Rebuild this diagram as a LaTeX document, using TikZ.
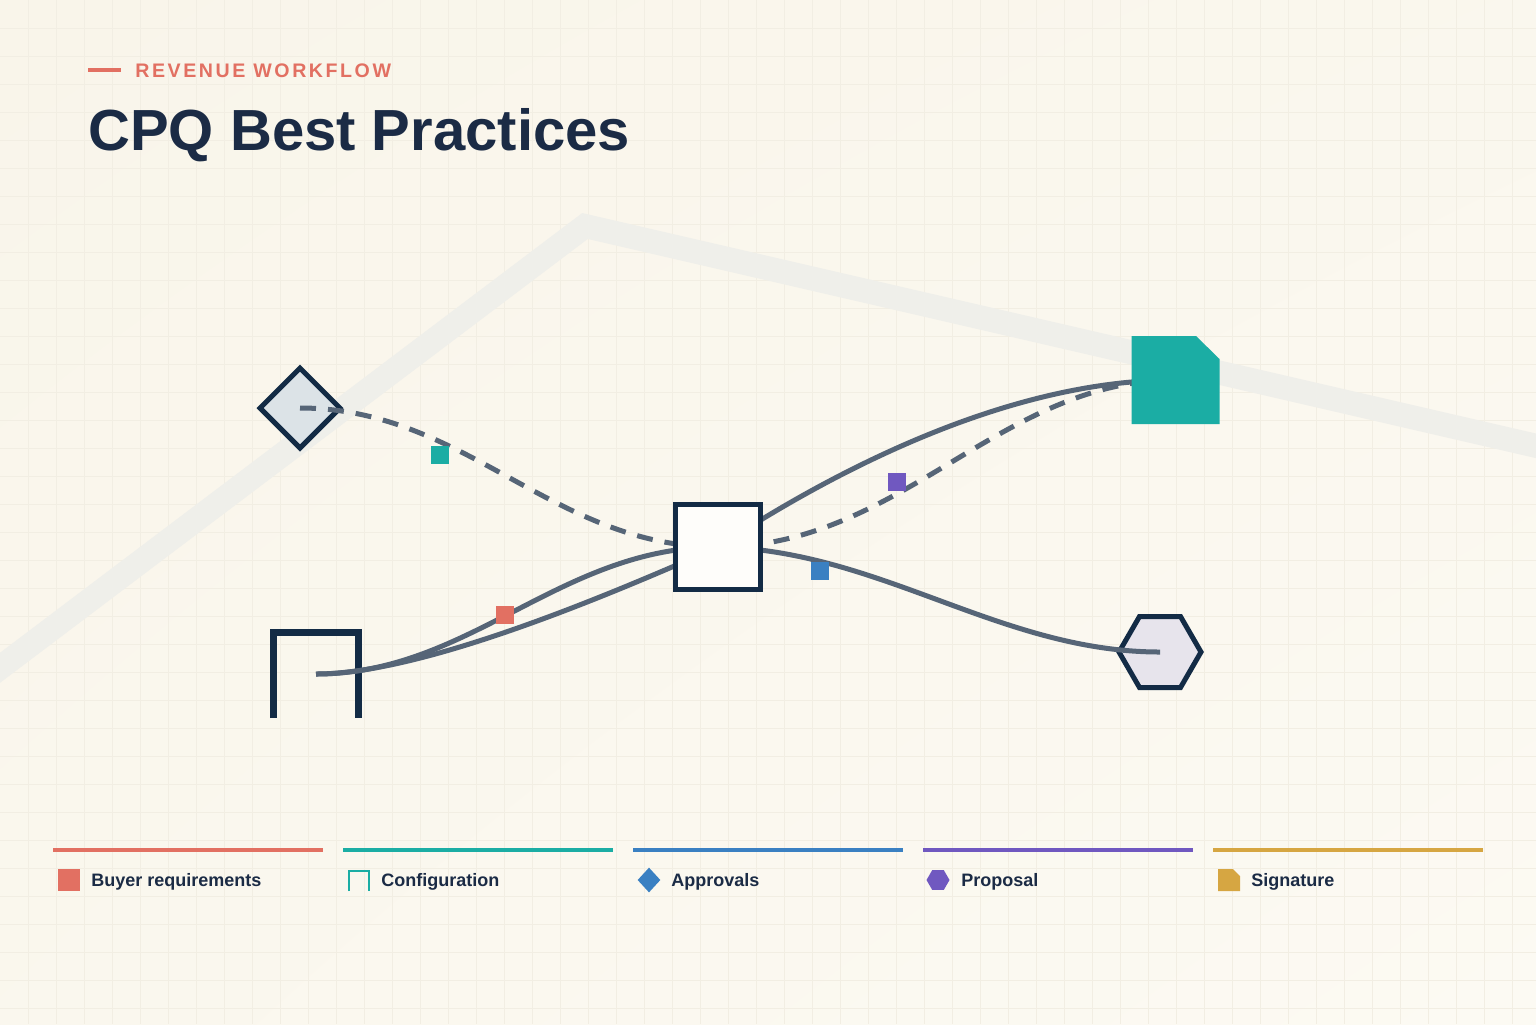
\documentclass[tikz,border=0pt]{standalone}
\usepackage{fontspec}
\setmainfont{Liberation Sans}
\usetikzlibrary{shapes.geometric,shadings}
\definecolor{bgA}{HTML}{F9F5EA}
\definecolor{bgB}{HTML}{FCFAF3}
\definecolor{gridc}{HTML}{F2EEE3}
\definecolor{bandc}{HTML}{EFEFEA}
\definecolor{navy}{HTML}{132B45}
\definecolor{textnavy}{HTML}{1B2B45}
\definecolor{wire}{HTML}{566577}
\definecolor{coral}{HTML}{E27062}
\definecolor{teal}{HTML}{1BADA4}
\definecolor{blueC}{HTML}{3A80C2}
\definecolor{purpleC}{HTML}{7058C0}
\definecolor{gold}{HTML}{D6A642}
\definecolor{diafill}{HTML}{DCE3E7}
\definecolor{hexfill}{HTML}{E7E4EC}
\tikzset{
  wirestyle/.style={draw=wire, line width=2.5pt},
  dashwire/.style={wirestyle, dash pattern=on 8pt off 6pt},
  marker/.style={minimum size=9pt, inner sep=0pt, draw=none},
  legline/.style={line width=2pt},
  leglabel/.style={anchor=base west, inner sep=0pt, font=\fontsize{9}{11}\selectfont\bfseries, text=textnavy},
  outline/.style={draw=navy, line width=2.5pt}
}
\begin{document}
\begin{tikzpicture}[x=0.5pt,y=-0.5pt]
\useasboundingbox (0,0) rectangle (1536,1024);
% background
\shade[upper left=bgA, lower right=bgB, upper right=bgA!60!bgB, lower left=bgA!60!bgB] (0,0) rectangle (1536,1024);
\begin{scope}
\clip (0,0) rectangle (1536,1024);
\foreach \i in {1,...,54} { \draw[gridc, line width=0.5pt] (28*\i,0) -- (28*\i,1024); }
\foreach \j in {1,...,36} { \draw[gridc, line width=0.5pt] (0,28*\j) -- (1536,28*\j); }
\draw[bandc, line width=12pt, line join=miter] (-40,698) -- (585,226) -- (1580,456);
\end{scope}

% header
\draw[coral, line width=2pt] (88,70) -- (121,70);
\node[anchor=base west, inner sep=0pt, text=coral, font=\fontsize{9.8}{12}\selectfont\bfseries\addfontfeatures{LetterSpace=13}] (kicker) at (135,77) {REVENUE WORKFLOW};
\node[anchor=base west, inner sep=0pt, text=textnavy, font=\fontsize{29}{34}\selectfont\bfseries] (title) at (88,150) {CPQ Best Practices};

% lower-layer nodes
\node[diamond, outline, fill=diafill, minimum width=41pt, minimum height=41pt, inner sep=0pt] (appr) at (300,408) {};
\node[regular polygon, regular polygon sides=6, outline, fill=hexfill, minimum size=41pt, inner sep=0pt] (prop) at (1160,652) {};
\coordinate (cfg) at (316,674);
\draw[navy, line width=3.5pt] (273,718) -- (273,632) -- (358.5,632) -- (358.5,718);
\coordinate (sig) at (1175,380);
\coordinate (hub) at (718,547);

% connectors
\draw[dashwire] (appr.center) .. controls +(165,0) and +(-165,0) .. (hub);
\draw[wirestyle] (cfg) .. controls +(154,0) and +(-158,0) .. (hub);
\draw[wirestyle] (cfg) .. controls +(110,0) and +(-98,43) .. (hub);
\draw[wirestyle] (hub) .. controls +(102,-67) and +(-175,0) .. (sig);
\draw[dashwire] (hub) .. controls +(182,0) and +(-175,0) .. (sig);
\draw[wirestyle] (hub) .. controls +(162,3) and +(-160,0) .. (prop.center);

% upper-layer nodes
\node[rectangle, outline, fill=white!60!bgB, minimum size=42.5pt, inner sep=0pt] (center) at (hub) {};
\fill[teal] (1131.5,336) -- (1196,336) -- (1219.5,359) -- (1219.5,424) -- (1131.5,424) -- cycle;

% markers
\node[marker, fill=teal] (m1) at (440,455) {};
\node[marker, fill=coral] (m2) at (505,615) {};
\node[marker, fill=blueC] (m3) at (820,571) {};
\node[marker, fill=purpleC] (m4) at (897,482) {};

% legend
\draw[legline, coral] (53,850) -- (323,850);
\draw[legline, teal] (343,850) -- (613,850);
\draw[legline, blueC] (633,850) -- (903,850);
\draw[legline, purpleC] (923,850) -- (1193,850);
\draw[legline, gold] (1213,850) -- (1483,850);

\node[marker, fill=coral, minimum size=11pt] (k1) at (69,880) {};
\draw[teal, line width=1pt] (349,891) -- (349,871) -- (369,871) -- (369,891);
\node[diamond, fill=blueC, minimum width=11.5pt, minimum height=12.5pt, inner sep=0pt] (k3) at (649,880) {};
\node[regular polygon, regular polygon sides=6, fill=purpleC, minimum size=11.5pt, inner sep=0pt] (k4) at (938,880) {};
\fill[gold] (1218,869) -- (1233,869) -- (1240,876) -- (1240,891) -- (1218,891) -- cycle;

\node[leglabel] (l1) at (91,886.5) {Buyer requirements};
\node[leglabel] (l2) at (381,886.5) {Configuration};
\node[leglabel] (l3) at (671,886.5) {Approvals};
\node[leglabel] (l4) at (961,886.5) {Proposal};
\node[leglabel] (l5) at (1251,886.5) {Signature};
\end{tikzpicture}
\end{document}
